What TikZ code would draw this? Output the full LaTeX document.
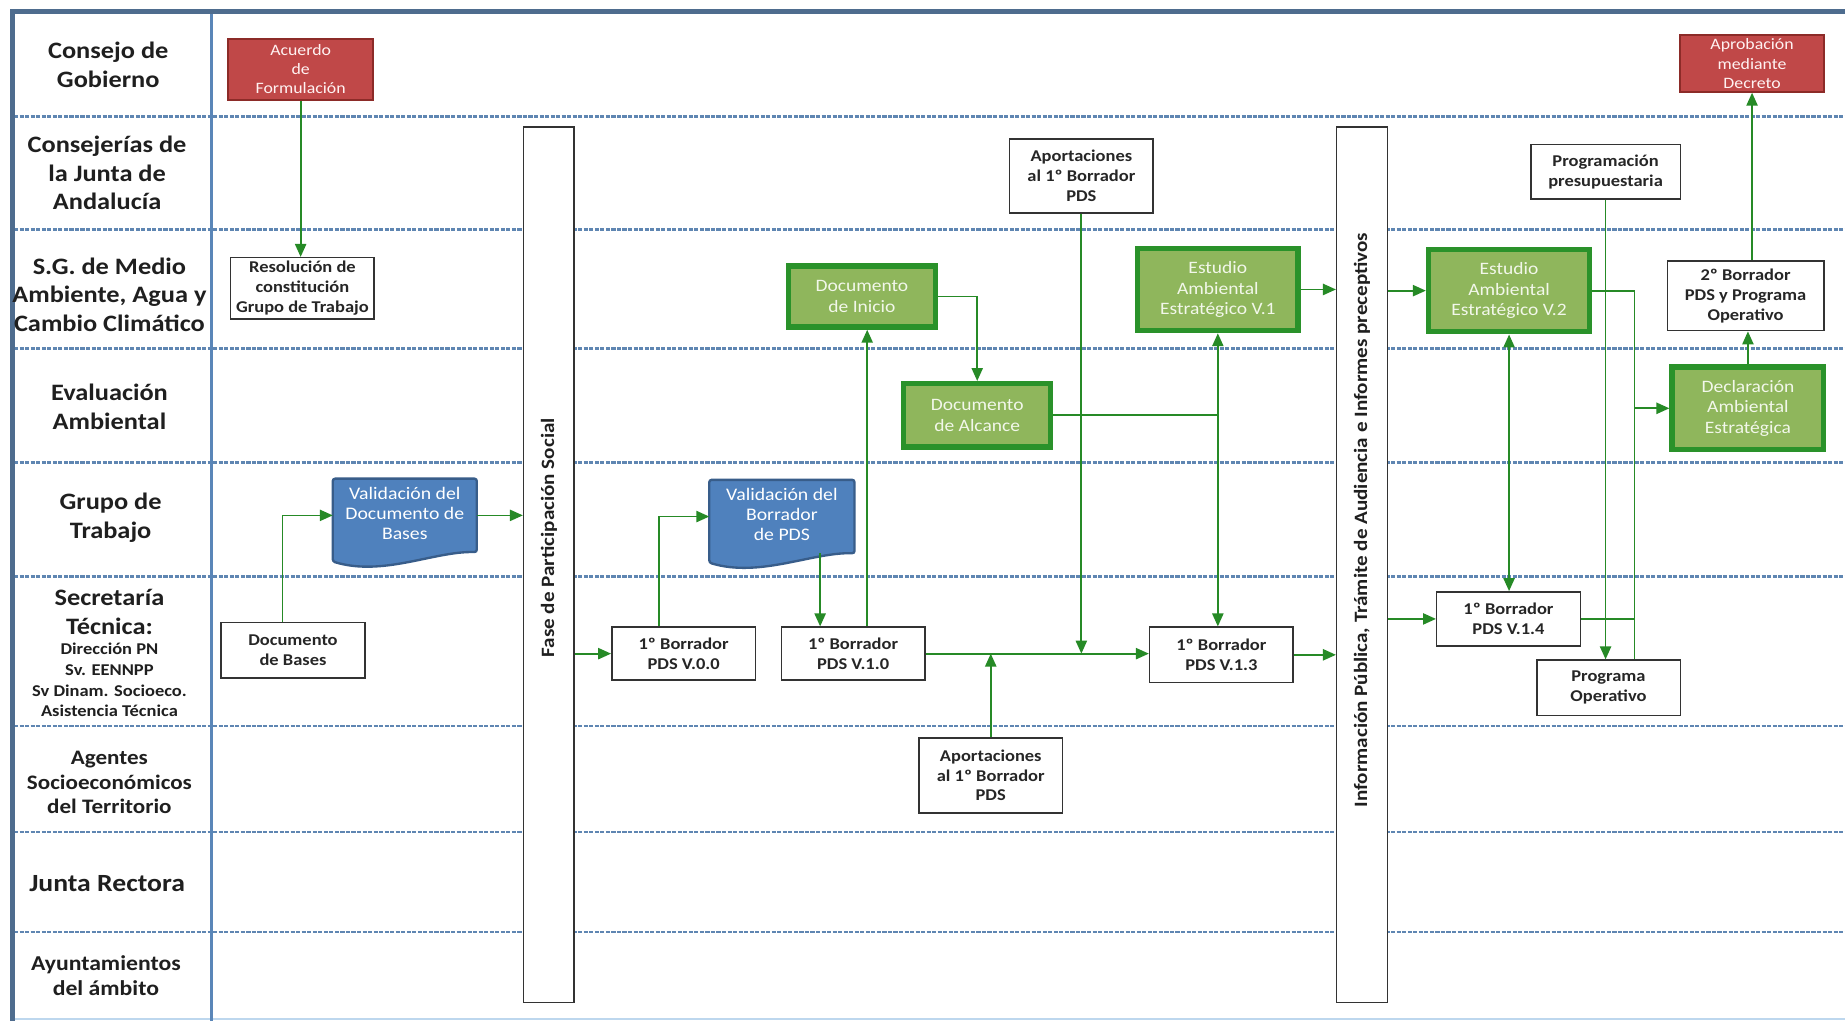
\documentclass[tikz,border=0pt]{standalone}
\usepackage{fontspec}
\setmainfont[FakeStretch=1.12]{Carlito}
\usetikzlibrary{arrows.meta,calc}
\definecolor{frameC}{HTML}{4E6C8E}
\definecolor{divC}{HTML}{5A86B8}
\definecolor{rowC}{HTML}{5F86B2}
\definecolor{botC}{HTML}{BDD7EE}
\definecolor{arrC}{HTML}{268A26}
\definecolor{redF}{HTML}{C04848}
\definecolor{redD}{HTML}{8C2B28}
\definecolor{bluF}{HTML}{4F81BD}
\definecolor{bluD}{HTML}{385D8A}
\definecolor{grnF}{HTML}{8FB65C}
\definecolor{grnD}{HTML}{2A922A}
\definecolor{boxD}{HTML}{333333}
\definecolor{txtG}{HTML}{F2F7EA}
\begin{document}
\begin{tikzpicture}[x=1pt,y=-1pt,
  lane/.style={font=\bfseries\fontsize{20}{24.5}\selectfont, align=center, text=black!88},
  lanesm/.style={font=\bfseries\fontsize{17.5}{21}\selectfont, align=center, text=black!88},
  wbox/.style={draw=boxD, line width=1.3pt, fill=white, align=center, inner sep=1pt,
    font=\bfseries\fontsize{14}{16.8}\selectfont, text=black!85},
  redbox/.style={draw=redD, line width=1.6pt, fill=redF, align=center, inner sep=1pt,
    font=\fontsize{13.5}{16.2}\selectfont, text=white!95!red},
  gbox/.style={draw=grnD, line width=4.5pt, fill=grnF, align=center, inner sep=1pt,
    font=\fontsize{14.8}{17.5}\selectfont, text=txtG},
  docbody/.style={align=center, inner sep=1pt, font=\fontsize{15}{17}\selectfont, text=white},
  docshape/.style={draw=bluD, line width=2pt, fill=bluF, rounded corners=2pt},
  barbox/.style={draw=boxD, line width=1.3pt, fill=white, minimum width=43pt, minimum height=744pt, inner sep=0pt},
  bartext/.style={rotate=90, font=\bfseries\fontsize{16}{19}\selectfont, text=black!88},
  rowline/.style={draw=rowC, line width=2.2pt, dash pattern=on 3.5pt off 1.2pt},
  conn/.style={draw=arrC, line width=1.5pt},
  arr/.style={conn, -{Triangle[length=11pt,width=9.5pt]}},
  barr/.style={conn, {Triangle[length=11pt,width=9.5pt]}-{Triangle[length=11pt,width=9.5pt]}}
]
\useasboundingbox (0,0) rectangle (1568,868);
\fill[white] (0,0) rectangle (1568,868);
% lane separators
\foreach \yy in {99,195,296,393,490,617,707,792}
  \draw[rowline] (12,\yy) -- (1568,\yy);
% frame
\draw[botC, line width=1.5pt] (12,866) -- (1568,866);
\draw[divC, line width=2.6pt] (180,10) -- (180,868);
\draw[frameC, line width=4pt] (1568,10) -- (10.5,10) -- (10.5,868);
% lane labels
\node[lane] (l1) at (92,55) {Consejo de\\Gobierno};
\node[lane] (l2) at (91,147) {Consejerías de\\la Junta de\\Andalucía};
\node[lane] (l3) at (93,250.5) {S.G. de Medio\\Ambiente, Agua y\\Cambio Climático};
\node[lane] (l4) at (93,346) {Evaluación\\Ambiental};
\node[lane] (l5) at (94,440) {Grupo de\\Trabajo};
\node[lane] (l6) at (93,520) {Secretaría\\Técnica:};
\node[font=\bfseries\fontsize{14}{17.5}\selectfont, align=center, text=black!88] (l6b) at (93,578) {Dirección PN\\Sv. EENNPP\\Sv Dinam. Socioeco.\\Asistencia Técnica};
\node[lanesm] (l7) at (93,665) {Agentes\\Socioeconómicos\\del Territorio};
\node[lane, font=\bfseries\fontsize{21}{24.5}\selectfont] (l8) at (91,751) {Junta Rectora};
\node[lanesm, font=\bfseries\fontsize{18}{21}\selectfont] (l9) at (90,829) {Ayuntamientos\\del ámbito};
% phase bars
\node[barbox] (fase) at (466.5,480) {};
\node[bartext] (fasetxt) at (466.5,457) {Fase de Participación Social};
\node[barbox] (info) at (1157.5,480) {};
\node[bartext] (infotxt) at (1157.5,442) {Información Pública, Trámite de Audiencia e Informes preceptivos};
% boxes
\node[redbox, minimum width=123pt, minimum height=52pt] (acuerdo) at (255.5,59) {Acuerdo\\de\\Formulación};
\node[wbox, minimum width=122pt, minimum height=52pt] (resol) at (257,245) {Resolución de\\constitución\\Grupo de Trabajo};
\node[wbox, minimum width=122pt, minimum height=47pt] (docbases) at (249,552.5) {Documento\\de Bases};
\node[docbody, minimum width=122pt, minimum height=62pt] (valbases) at (344,438) {};
\draw[docshape] (valbases.north west) -- (valbases.north east) -- (valbases.south east)
  .. controls ([xshift=-36pt,yshift=1pt]valbases.south east) and ([xshift=43pt,yshift=-21pt]valbases.south west)
  .. ([yshift=-8pt]valbases.south west) -- cycle;
\node[docbody] (valbasestxt) at (344,436) {Validación del\\Documento de\\Bases};
\node[docbody, minimum width=123pt, minimum height=62pt] (valborr) at (664.5,439) {};
\draw[docshape] (valborr.north west) -- (valborr.north east) -- (valborr.south east)
  .. controls ([xshift=-36pt,yshift=1pt]valborr.south east) and ([xshift=43pt,yshift=-21pt]valborr.south west)
  .. ([yshift=-8pt]valborr.south west) -- cycle;
\node[docbody] (valborrtxt) at (664.5,437) {Validación del\\Borrador\\de PDS};
\node[wbox, minimum width=122pt, minimum height=45pt] (v00) at (581,555.5) {1º Borrador\\PDS V.0.0};
\node[wbox, minimum width=122pt, minimum height=45pt] (v10) at (725,555.5) {1º Borrador\\PDS V.1.0};
\node[gbox, minimum width=125pt, minimum height=52pt] (docini) at (732.5,252) {Documento\\de Inicio};
\node[gbox, minimum width=125pt, minimum height=54pt] (alcance) at (830.5,353) {Documento\\de Alcance};
\node[wbox, minimum width=122pt, minimum height=63pt] (aport1) at (919,149.5) {Aportaciones\\al 1º Borrador\\PDS};
\node[gbox, minimum width=136pt, minimum height=70pt] (eae1) at (1035,246) {Estudio\\Ambiental\\Estratégico V.1};
\node[wbox, minimum width=122pt, minimum height=47pt] (v13) at (1038,556.5) {1º Borrador\\PDS V.1.3};
\node[wbox, minimum width=122pt, minimum height=64pt] (aport2) at (842,659) {Aportaciones\\al 1º Borrador\\PDS};
\node[gbox, minimum width=137pt, minimum height=70pt] (eae2) at (1282.5,247) {Estudio\\Ambiental\\Estratégico V.2};
\node[wbox, minimum width=122pt, minimum height=46pt] (v14) at (1282,526) {1º Borrador\\PDS V.1.4};
\node[wbox, minimum width=127pt, minimum height=46pt] (progpres) at (1364.5,146) {Programación\\presupuestaria};
\node[wbox, minimum width=122pt, minimum height=47pt] (progop) at (1367,584.5) {Programa\\Operativo};
\node[gbox, minimum width=129pt, minimum height=70pt] (declar) at (1485.5,347) {Declaración\\Ambiental\\Estratégica};
\node[wbox, minimum width=133pt, minimum height=59pt] (borr2) at (1483.5,251.5) {2º Borrador\\PDS y Programa\\Operativo};
\node[redbox, minimum width=122pt, minimum height=48pt] (aprob) at (1489,54) {Aprobación\\mediante\\Decreto};
% junctions
\coordinate (ja) at (alcance.east -| eae1.south);
\coordinate (jx) at ([xshift=22pt]progop.north);
% connectors
\draw[arr] (acuerdo.south) -- (acuerdo.south |- resol.north);
\draw[arr] ([xshift=-9pt]docbases.north) |- (valbases.west);
\draw[arr] (valbases.east) -- (valbases.east -| fase.west);
\draw[arr] (v00.west -| fase.east) -- (v00.west);
\draw[arr] ([xshift=-21pt]v00.north) |- (valborr.west);
\draw[arr] ([xshift=-28pt]v10.north |- valborr.south) -- ([xshift=-28pt]v10.north);
\draw[arr] ([xshift=12pt]v10.north) -- ([xshift=12pt]v10.north |- docini.south);
\draw[arr] (docini.east) -| (alcance.north);
\draw[conn] (alcance.east) -- (ja);
\draw[barr] (eae1.south) -- (eae1.south |- v13.north);
\draw[arr] (aport1.south) -- (aport1.south |- v10.east);
\draw[arr] (v10.east) -- (v10.east -| v13.west);
\draw[arr] (aport2.north) -- (aport2.north |- v10.east);
\draw[arr] (eae1.east) -- (eae1.east -| info.west);
\draw[arr] (v13.east) -- (v13.east -| info.west);
\draw[arr] (eae2.west -| info.east) -- (eae2.west);
\draw[arr] (v14.west -| info.east) -- (v14.west);
\draw[barr] (eae2.south) -- (eae2.south |- v14.north);
\draw[arr] (progpres.south) -- (progpres.south |- progop.north);
\draw[conn] (eae2.east) -| (jx);
\draw[conn] (v14.east) -- (v14.east -| jx);
\draw[arr] (jx |- declar.west) -- (declar.west);
\draw[arr] (declar.north) -- (declar.north |- borr2.south);
\draw[arr] (aprob.south |- borr2.north) -- (aprob.south);
\end{tikzpicture}
\end{document}
